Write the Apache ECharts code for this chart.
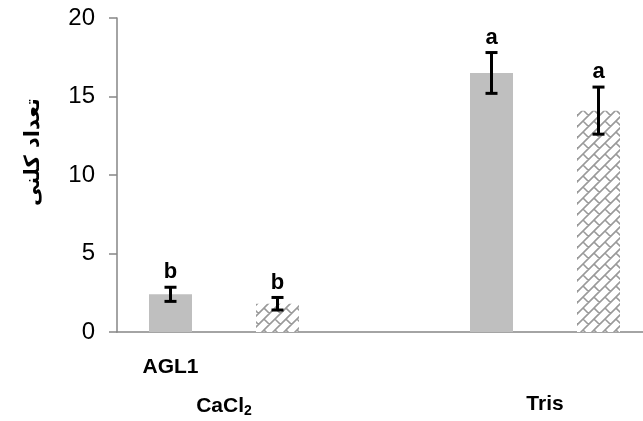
<!DOCTYPE html>
<html><head><meta charset="utf-8">
<script src="https://cdn.jsdelivr.net/npm/echarts@6/dist/echarts.min.js"></script>
<style>html,body{margin:0;padding:0;background:#fff}#c{width:643px;height:421px}</style>
</head><body><div id="c"></div>
<script>
var categories = ['AGL1', '', '', '', ''];
var groupLabels = ['', '', 'CaCl2', '', '', '', '', '', 'Tris', '', ''];
var solidValues = [2.4, null, null, 16.5, null];
var hatchedValues = [null, 1.8, null, null, 14.1];
var errorValues = [0.45, 0.4, null, 1.3, 1.5];
var letters = ['b', 'b', '', 'a', 'a'];
var yTicks = [0, 5, 10, 15, 20];

function makeHatch() {
  var S = 11, T = 2 * S;
  var c = document.createElement('canvas');
  c.width = T; c.height = T;
  var g = c.getContext('2d');
  g.fillStyle = '#ffffff'; g.fillRect(0, 0, T, T);
  g.strokeStyle = '#9a9a9a'; g.lineWidth = 1.6;
  g.beginPath();
  for (var s = -4 * S; s <= 8 * S; s += S) { g.moveTo(-5 * S, s + 5 * S); g.lineTo(s + 5 * S, -5 * S); }
  for (var k = -6; k <= 10; k++) {
    var s0 = S * k;
    var off = (((k % 2) + 2) % 2) * S;
    for (var d = -8 * S + off; d <= 8 * S; d += T) {
      g.moveTo((s0 + d) / 2, (s0 - d) / 2);
      g.lineTo((s0 + S + d) / 2, (s0 + S - d) / 2);
    }
  }
  g.stroke();
  return c;
}

var errData = [];
for (var i = 0; i < categories.length; i++) {
  var v = solidValues[i] != null ? solidValues[i] : hatchedValues[i];
  if (v != null && errorValues[i] != null) errData.push([i, v - errorValues[i], v + errorValues[i], letters[i]]);
}

var FONT = 'Liberation Sans, Arial, sans-serif';
var chart = echarts.init(document.getElementById('c'), null, {renderer: 'canvas'});
chart.setOption({
  animation: false,
  grid: {left: 117, top: 18, width: 535, bottom: 89, containLabel: false, outerBoundsMode: 'none'},
  xAxis: [{
    type: 'category', data: categories, position: 'bottom',
    axisLine: {lineStyle: {color: '#868686', width: 1.5}},
    axisTick: {show: false},
    axisLabel: {margin: 25, fontSize: 21, fontWeight: 'bold', color: '#000', fontFamily: FONT, interval: 0}
  }, {
    type: 'category', data: groupLabels, position: 'bottom', boundaryGap: false,
    axisLine: {show: false}, axisTick: {show: false},
    axisLabel: {
      margin: 62, interval: 0, fontSize: 21, fontWeight: 'bold', color: '#000', fontFamily: FONT,
      formatter: function (v) { return v === 'CaCl2' ? 'CaCl{sub|2}' : v; },
      rich: {sub: {fontSize: 14, fontWeight: 'bold', verticalAlign: 'bottom', padding: [10, 0, 0, 0], color: '#000', fontFamily: FONT}}
    }
  }],
  yAxis: {
    type: 'value', min: 0, max: 20, interval: 5,
    name: 'تعداد کلنی', nameLocation: 'middle', nameGap: 73, nameRotate: 90,
    nameTextStyle: {fontSize: 21, fontWeight: 'bold', color: '#000', fontFamily: 'DejaVu Sans, sans-serif', padding: [0, 0, 0, 46]},
    axisLine: {show: true, lineStyle: {color: '#868686', width: 1.5}},
    axisTick: {show: true, length: 8, lineStyle: {color: '#868686', width: 1.5}},
    splitLine: {show: false},
    axisLabel: {margin: 22, fontSize: 24, color: '#000', fontFamily: FONT,
      formatter: function (v) { return yTicks.indexOf(v) >= 0 ? String(v) : ''; }}
  },
  series: [{
    type: 'bar', data: solidValues, barWidth: 43, barGap: '-100%',
    itemStyle: {color: '#bfbfbf'}
  }, {
    type: 'bar', data: hatchedValues, barWidth: 43,
    itemStyle: {color: {image: makeHatch(), repeat: 'repeat'}}
  }, {
    type: 'custom', data: errData, z: 10,
    renderItem: function (params, api) {
      var x = api.value(0);
      var lo = api.coord([x, api.value(1)]);
      var hi = api.coord([x, api.value(2)]);
      var cx = lo[0], w = 6;
      return {type: 'group', children: [
        {type: 'line', shape: {x1: cx, y1: lo[1], x2: cx, y2: hi[1]}, style: {stroke: '#000', lineWidth: 3}},
        {type: 'line', shape: {x1: cx - w, y1: lo[1], x2: cx + w, y2: lo[1]}, style: {stroke: '#000', lineWidth: 3}},
        {type: 'line', shape: {x1: cx - w, y1: hi[1], x2: cx + w, y2: hi[1]}, style: {stroke: '#000', lineWidth: 3}},
        {type: 'text', style: {text: api.value(3), x: cx, y: hi[1] - 4, textAlign: 'center', textVerticalAlign: 'bottom',
          fill: '#000', font: 'bold 22px "Liberation Sans", Arial, sans-serif'}}
      ]};
    },
    encode: {x: 0, y: [1, 2]}
  }]
});
</script></body></html>
